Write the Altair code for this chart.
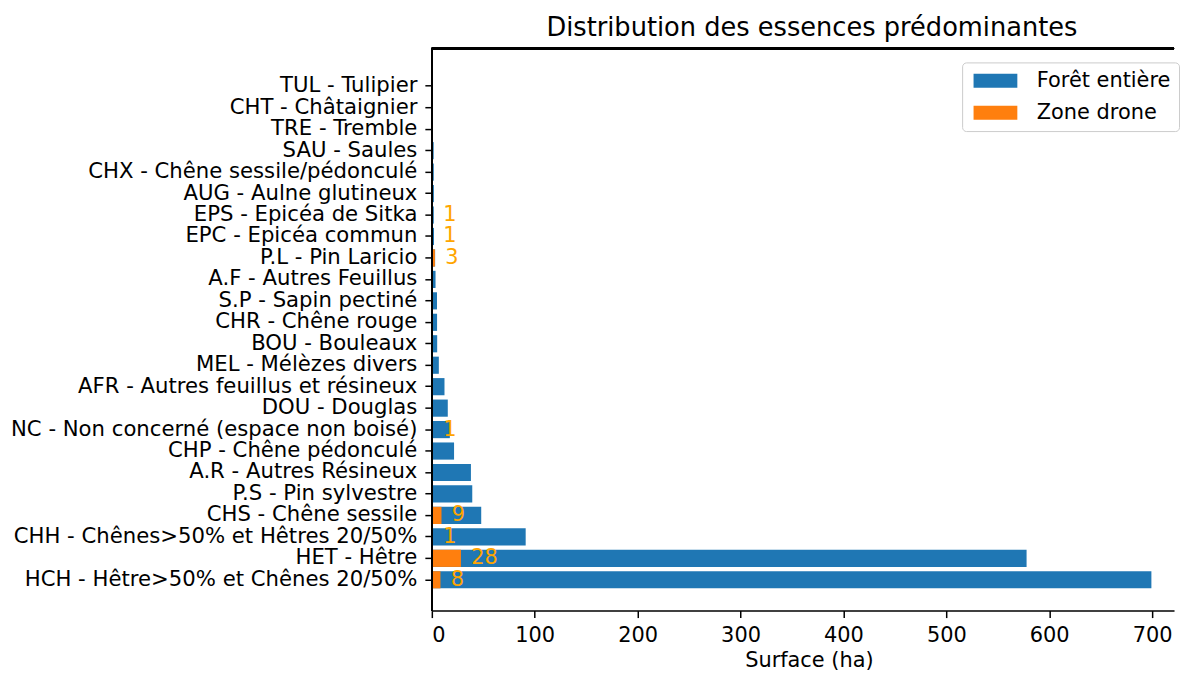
import altair as alt
import pandas as pd

categories = [
    "TUL - Tulipier", "CHT - Châtaignier", "TRE - Tremble", "SAU - Saules",
    "CHX - Chêne sessile/pédonculé", "AUG - Aulne glutineux", "EPS - Epicéa de Sitka",
    "EPC - Epicéa commun", "P.L - Pin Laricio", "A.F - Autres Feuillus",
    "S.P - Sapin pectiné", "CHR - Chêne rouge", "BOU - Bouleaux",
    "MEL - Mélèzes divers", "AFR - Autres feuillus et résineux", "DOU - Douglas",
    "NC - Non concerné (espace non boisé)", "CHP - Chêne pédonculé",
    "A.R - Autres Résineux", "P.S - Pin sylvestre", "CHS - Chêne sessile",
    "CHH - Chênes>50% et Hêtres 20/50%", "HET - Hêtre", "HCH - Hêtre>50% et Chênes 20/50%",
]
foret_entiere = [0.2, 0.1, 0.1, 1.8, 1.9, 2.0, 1.9, 2.1, 3.2, 3.6, 5.0, 5.1, 5.2, 6.8,
                 12.3, 15.5, 17.5, 21.6, 38.0, 39.3, 48.0, 91.2, 578.0, 699.3]
zone_drone = [0, 0, 0, 0, 0, 0, 1.0, 1.0, 3.0, 0, 0, 0, 0, 0,
              0, 0, 1.0, 0, 0, 0, 9.4, 1.0, 28.3, 8.4]
series_names = ["Forêt entière", "Zone drone"]
series_colors = ["#1f77b4", "#ff7f0e"]

df = pd.DataFrame({"cat": categories, "foret": foret_entiere, "drone": zone_drone})

FONT = "DejaVu Sans"
W, H = 746, 565

color_scale = alt.Scale(domain=series_names, range=series_colors)
y_enc = alt.Y("cat:N", sort=categories,
              scale=alt.Scale(paddingInner=0.2, paddingOuter=1, range=[7.8, 564.2]),
              axis=alt.Axis(title=None, labelFontSize=21.3, tickSize=7, labelPadding=8,
                            labelLimit=600, domain=False))
x_scale = alt.Scale(domain=[0, 721.3], nice=False, zero=True)
x_axis = alt.Axis(values=[0, 100, 200, 300, 400, 500, 600, 700], format="d",
                  title="Surface (ha)", tickSize=7, labelPadding=7, titlePadding=4,
                  labelFontSize=21, titleFontSize=21, titleX=379, titleAlign="center",
                  grid=False)

legend = alt.Legend(
    title=None, orient="none", legendX=533, legendY=14,
    symbolType="M-1,-1L5.2857,-1L5.2857,1L-1,1Z", symbolSize=196,
    symbolStrokeWidth=0, symbolOpacity=1, labelOffset=46,
    labelFontSize=21, labelFont=FONT, labelColor="#000000",
    padding=8, rowPadding=10, strokeColor="#cccccc", fillColor="#ffffff",
    cornerRadius=4,
)

base = alt.Chart(df)

blue = base.transform_calculate(series="'" + series_names[0] + "'").mark_bar().encode(
    y=y_enc,
    x=alt.X("foret:Q", scale=x_scale, axis=x_axis),
    color=alt.Color("series:N", scale=color_scale, legend=legend),
)
orange = base.transform_calculate(series="'" + series_names[1] + "'").mark_bar().encode(
    y=alt.Y("cat:N", sort=categories),
    x=alt.X("drone:Q"),
    color=alt.Color("series:N"),
)
labels = base.transform_filter("datum.drone > 0").transform_calculate(
    lx="datum.drone + 10"
).mark_text(align="left", baseline="middle", fontSize=21, font=FONT, color="#FFA500").encode(
    y=alt.Y("cat:N", sort=categories),
    x=alt.X("lx:Q"),
    text=alt.Text("drone:Q", format=".0f"),
)
top_spine = base.mark_rule(color="#000000", strokeWidth=1.5).encode(
    x=alt.value(0), x2=alt.value(W), y=alt.value(0)
)
left_spine = base.mark_rule(color="#000000", strokeWidth=1.5).encode(
    x=alt.value(0), y=alt.value(0), y2=alt.value(H)
)

chart = alt.layer(blue, orange, labels, top_spine, left_spine).properties(
    width=W, height=H,
    title=alt.TitleParams("Distribution des essences prédominantes", fontSize=25.8,
                          font=FONT, fontWeight="normal", color="#000000",
                          offset=6, dx=9, anchor="middle"),
    padding={"left": 2, "top": 5, "right": 0, "bottom": 0},
).configure_view(stroke=None).configure_axis(
    labelFont=FONT, titleFont=FONT, labelColor="#000000", titleColor="#000000",
    titleFontWeight="normal", domainColor="#000000", tickColor="#000000",
    domainWidth=1.5, tickWidth=1.5,
)

chart.save("out.html", embed_options={"renderer": "svg", "actions": False})
